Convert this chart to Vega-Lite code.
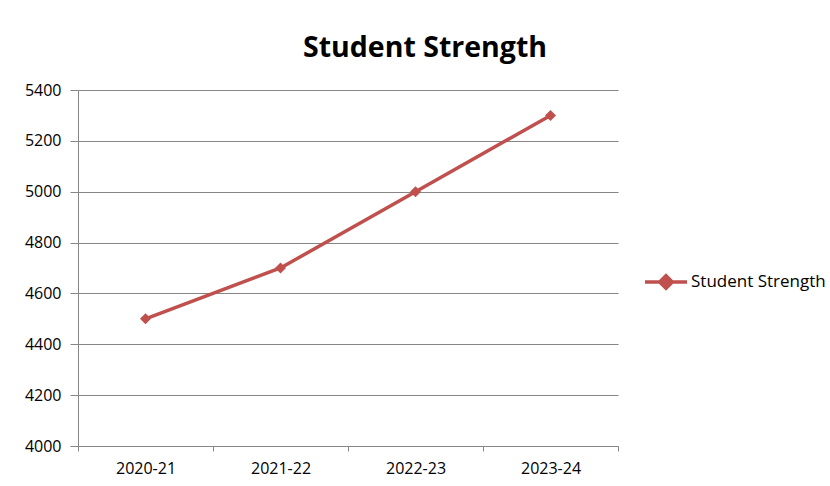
{
  "$schema": "https://vega.github.io/schema/vega-lite/v6.json",
  "autosize": {"type": "none"},
  "width": 540,
  "height": 356,
  "padding": {"left": 78, "top": 90, "right": 212, "bottom": 40},
  "background": "white",
  "config": {
    "view": {"stroke": null},
    "font": "Open Sans",
    "axis": {"labelFont": "Open Sans", "labelFontSize": 16, "labelColor": "#000000", "domainColor": "#868686", "tickColor": "#868686", "gridColor": "#868686", "gridOpacity": 1}
  },
  "title": {
    "text": "Student Strength",
    "font": "Open Sans",
    "fontSize": 28.5,
    "fontWeight": "bold",
    "color": "#000000",
    "anchor": "middle",
    "frame": "group",
    "baseline": "alphabetic",
    "dx": 77,
    "offset": -3
  },
  "data": {
    "values": [
      {"year": "2020-21", "value": 4500, "series": "Student Strength"},
      {"year": "2021-22", "value": 4700, "series": "Student Strength"},
      {"year": "2022-23", "value": 5000, "series": "Student Strength"},
      {"year": "2023-24", "value": 5300, "series": "Student Strength"}
    ]
  },
  "encoding": {
    "x": {
      "field": "year",
      "type": "nominal",
      "bandPosition": 0.5,
      "scale": {"type": "band", "paddingInner": 0, "paddingOuter": 0},
      "axis": {"title": null, "labelAngle": 0, "tickBand": "extent", "tickSize": 5, "labelPadding": 9, "grid": false}
    },
    "y": {
      "field": "value",
      "type": "quantitative",
      "scale": {"domain": [4000, 5400], "nice": false, "zero": false},
      "axis": {"title": null, "format": "d", "values": [4000, 4200, 4400, 4600, 4800, 5000, 5200, 5400], "tickSize": 8, "labelPadding": 9, "grid": true}
    },
    "color": {
      "field": "series",
      "type": "nominal",
      "scale": {"range": ["#C0504D"]},
      "legend": {
        "title": null,
        "orient": "none",
        "legendX": 565,
        "legendY": 169,
        "symbolType": "M-1,0H1M0,-0.3L0.3,0L0,0.3L-0.3,0Z",
        "symbolSize": 1764,
        "symbolStrokeWidth": 3.5,
        "symbolFillColor": "#C0504D",
        "symbolStrokeColor": "#C0504D",
        "labelFont": "Open Sans",
        "labelFontSize": 17,
        "labelColor": "#000000",
        "labelOffset": 2
      }
    }
  },
  "layer": [
    {"mark": {"type": "line", "strokeWidth": 3.5}},
    {"mark": {"type": "point", "shape": "diamond", "filled": true, "size": 121, "opacity": 1}}
  ]
}
